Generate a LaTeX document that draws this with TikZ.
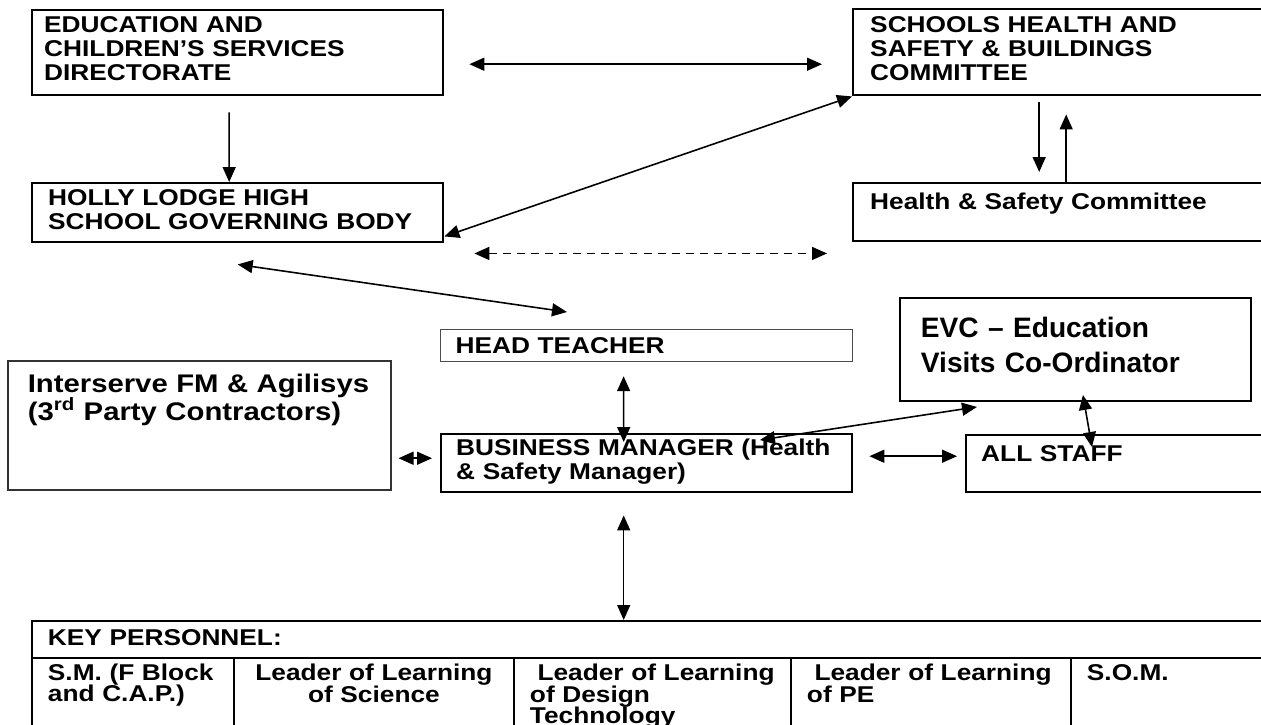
\documentclass[tikz,border=0pt]{standalone}
\usepackage{fontspec}
\setmainfont{Liberation Sans}[FakeStretch=1.15]
\newfontfamily\evcfont{Liberation Sans}
\usetikzlibrary{arrows.meta}

\begin{document}
\begin{tikzpicture}[x=0.02cm, y=-0.02cm,
    org/.style={draw, line width=1.4pt, anchor=north west, align=left, inner ysep=0.1cm, inner xsep=0.32cm, font=\fontsize{13}{13.6}\selectfont\bfseries},
    cell/.style={draw, line width=1.1pt, anchor=north west, align=left, inner ysep=0.1cm, inner xsep=0.32cm, text height=0.36cm, text depth=1.24cm, font=\fontsize{13}{11.3}\selectfont\bfseries},
    link/.style={<->, line width=0.9pt},
    >={Triangle[length=0.3cm, width=0.26cm]}]
    \useasboundingbox (0,0) rectangle (1261,724);
    %% governing boxes
    \node[org, text width=7.74cm, inner xsep=0.24cm, text height=0.348cm, text depth=1.152cm] (edu) at (31,9) {EDUCATION AND\\CHILDREN’S SERVICES\\DIRECTORATE};
    \node[org, text width=7.64cm, inner xsep=0.34cm, text height=0.368cm, text depth=1.152cm] (shs) at (852,8) {SCHOOLS HEALTH AND\\SAFETY \& BUILDINGS\\COMMITTEE};
    \node[org, text width=7.58cm, text height=0.348cm, text depth=0.632cm] (holly) at (31,182) {HOLLY LODGE HIGH\\SCHOOL GOVERNING BODY};
    \node[org, text width=7.64cm, inner xsep=0.34cm, text height=0.428cm, text depth=0.532cm] (hsc) at (852,182) {Health \& Safety Committee};
    %% school boxes
    \node[org, line width=0.7pt, draw=black!70, text width=7.64cm, inner xsep=0.3cm, text height=0.368cm, text depth=0.072cm] (head) at (440,329) {HEAD TEACHER};
    \node[org, text width=7.62cm, inner xsep=0.3cm, text height=0.328cm, text depth=0.632cm] (bm) at (440,433) {BUSINESS MANAGER (Health\\\& Safety Manager)};
    \node[org, line width=0.9pt, draw=black!80, text width=6.86cm, inner xsep=0.4cm, text height=0.526cm, text depth=1.854cm, font=\fontsize{14.5}{15.9}\selectfont\bfseries] (inter) at (7,360) {Interserve FM \& Agilisys\\(3\textsuperscript{rd} Party Contractors)};
    \node[org, line width=1.1pt, text width=6.18cm, inner xsep=0.42cm, text height=0.683cm, text depth=1.177cm, font=\evcfont\fontsize{16}{19.9}\selectfont\bfseries] (evc) at (899,297) {EVC – Education\\Visits Co-Ordinator};
    \node[org, text width=5.46cm, inner xsep=0.3cm, text height=0.428cm, text depth=0.512cm] (staff) at (965,434) {ALL STAFF};
    %% key personnel table
    \node[cell, text width=24.1cm, text height=0.388cm, text depth=0.152cm] (keyhead) at (31,620) {KEY PERSONNEL:};
    \node[cell, text width=3.40cm] (sm) at (31,657) {S.M. (F Block\\[-1.2pt]and C.A.P.)};
    \node[cell, text width=4.96cm, align=center] (science) at (233,657) {Leader of Learning\\[-1.2pt]of Science};
    \node[cell, text width=4.90cm] (design) at (513,657) {\ Leader of Learning\\[-1.2pt]of Design\\[-1.2pt]Technology};
    \node[cell, text width=4.96cm] (pe) at (790,657) {\ Leader of Learning\\[-1.2pt]of PE};
    \node[cell, text width=3.32cm] (som) at (1070,657) {S.O.M.};
    %% connectors
    \draw[link, shorten <=0.5cm, shorten >=0.6cm] ([yshift=-0.23cm]edu.east) -- ([yshift=-0.23cm]edu.east -| shs.west);
    \draw[link, <-] ([xshift=-0.17cm]holly.north) -- ([xshift=-0.17cm, yshift=-0.32cm]edu.south);
    \draw[link, ->, shorten <=0.12cm, shorten >=0.2cm] ([xshift=-0.44cm]shs.south) -- ([xshift=-0.44cm]shs.south |- hsc.north);
    \draw[link, ->, shorten >=0.36cm] ([xshift=0.1cm]hsc.north) -- ([xshift=0.1cm]hsc.north |- shs.south);
    \draw[link] ([yshift=0.14cm]holly.south east) -- (shs.south west);
    \draw[link, dash pattern=on 4.5pt off 3.5pt, shorten <=0.6cm, shorten >=0.5cm] ([yshift=-0.2cm]holly.south east) -- ([yshift=-0.2cm]holly.south east -| hsc.west);
    \draw[link] ([yshift=-0.42cm]holly.south) -- ([xshift=2.54cm, yshift=0.34cm]head.north west);
    \draw[link, shorten <=0.28cm, shorten >=-0.18cm] ([xshift=-0.46cm]head.south) -- ([xshift=-0.46cm]bm.north);
    \draw[link, shorten <=0.44cm] ([xshift=-0.46cm]bm.south) -- ([xshift=-0.46cm]bm.south |- keyhead.north);
    \draw[link, shorten <=0.14cm, shorten >=0.16cm] ([yshift=0.1cm]bm.west -| inter.east) -- ([yshift=0.1cm]bm.west);
    \draw[link, shorten <=0.32cm, shorten >=0.16cm] ([yshift=0.14cm]bm.east) -- ([yshift=0.14cm]bm.east -| staff.west);
    \draw[link] ([xshift=6.4cm, yshift=-0.14cm]bm.north west) -- ([xshift=1.56cm, yshift=-0.1cm]evc.south west);
    \draw[link] ([xshift=0.15cm, yshift=0.14cm]evc.south) -- ([xshift=2.54cm, yshift=-0.26cm]staff.north west);
\end{tikzpicture}
\end{document}
